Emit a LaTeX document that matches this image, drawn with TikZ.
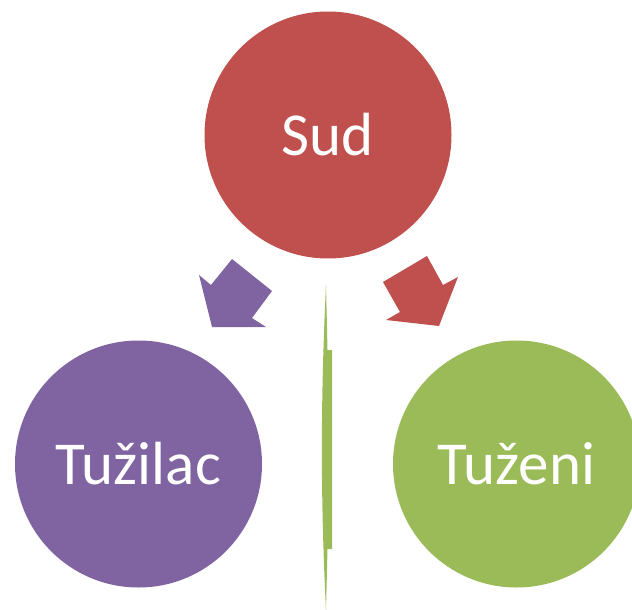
\documentclass[tikz,border=0pt]{standalone}
\usepackage{fontspec}
\setmainfont{Carlito}
\begin{document}
\begin{tikzpicture}[x=1pt,y=-1pt]
      \newcommand{\rad}[0]{247pt}

      \definecolor{sudred}{HTML}{C0504D}
      \definecolor{tuzpurple}{HTML}{8064A2}
      \definecolor{tuzgreen}{HTML}{9BBB59}

      \tikzstyle{party}=[
        circle,
        minimum size=\rad,
        inner sep=0pt,
        anchor=center,
        text=white,
        font=\fontsize{61}{72}\selectfont
      ]
      \tikzstyle{blockarrow} = [draw=none]

      \clip (0,0) rectangle (632,610);

      \node[party, fill=sudred]    (sud)     at (328, 135) {Sud};
      \node[party, fill=tuzpurple] (tuzilac) at (138.5, 464) {Tužilac};
      \node[party, fill=tuzgreen]  (tuzeni)  at (516.5, 464) {Tuženi};

      % arrow towards Tuzilac
      \fill[blockarrow, tuzpurple] (199,275) -- (212,327) -- (266,327) -- (252,318)
        -- (272,291) -- (232,259) -- (211,285) -- cycle;
      % arrow towards Tuzeni
      \fill[blockarrow, sudred] (383,282) -- (427,256) -- (443,285) -- (458,277)
        -- (439,326) -- (386,320) -- (400,312) -- cycle;
      % cycle arrow seen edge on
      \fill[blockarrow, tuzgreen] (326,285) -- (327.5,350) -- (332,350) -- (332,549)
        -- (327.5,549) -- (326,610) .. controls (320.5,500) and (320.5,400) .. (326,285) -- cycle;
    \end{tikzpicture}
\end{document}
